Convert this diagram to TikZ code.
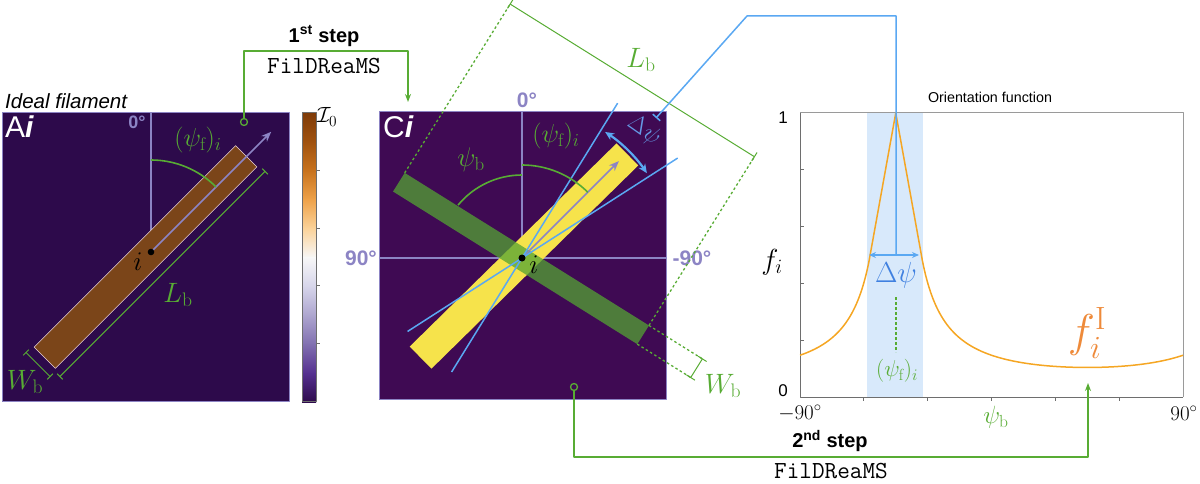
\RequirePackage{fix-cm}
\documentclass[tikz,border=0pt]{standalone}
\usepackage{fontspec}
\newfontfamily\hv{Liberation Sans}
\usetikzlibrary{arrows.meta,calc}
\definecolor{bgA}{HTML}{2D0A4B}
\definecolor{bgC}{HTML}{3F0A53}
\definecolor{lav}{HTML}{8C84C4}
\definecolor{grn}{HTML}{58AC34}
\definecolor{blu}{HTML}{5AA8F2}
\definecolor{bluD}{HTML}{3F80E0}
\definecolor{brn}{HTML}{7B4519}
\definecolor{brnE}{HTML}{E8D0D8}
\definecolor{yel}{HTML}{F6E34B}
\definecolor{gbar}{HTML}{54A333}
\definecolor{band}{HTML}{D8E9FB}
\definecolor{orc}{HTML}{F5A623}
\definecolor{orl}{HTML}{EE8A3A}
\definecolor{axc}{HTML}{6E6E6E}
\tikzset{
  panel/.style={draw=lav, line width=0.8, inner sep=0, anchor=south west},
  lavline/.style={lav, line width=1.3},
  lavarrow/.style={lav, line width=1.6, -{Stealth[length=10,width=8]}},
  grnline/.style={grn, line width=1.6},
  dimline/.style={grn, line width=1},
  dotline/.style={grn, line width=1.3, dash pattern=on 2.5pt off 2.5pt},
  bluline/.style={blu, line width=1.5},
  deg/.style={text=lav, font=\hv\bfseries\fontsize{21}{24}\selectfont, inner sep=0},
  paneltag/.style={text=white, font=\hv\fontsize{30}{34}\selectfont, inner sep=0, anchor=base west},
  gtxt/.style={text=grn, inner sep=0},
  stepbr/.style={grn, line width=1.6, -{Stealth[length=8,width=6]}},
  opencirc/.style={draw=grn, line width=1.3, circle, minimum size=7, inner sep=0},
  steptxt/.style={font=\hv\bfseries\fontsize{20}{24}\selectfont, inner sep=0},
  tool/.style={font=\ttfamily\fontsize{24.5}{28}\selectfont, inner sep=0},
}
\newcommand{\fsz}[1]{\fontsize{#1}{#1}\selectfont}
\begin{document}
\begin{tikzpicture}[x=1pt,y=1pt,line join=round]
\useasboundingbox (0,0) rectangle (1200,483);

% ---------------- Panel A ----------------
\node[panel, fill=bgA, minimum width=287, minimum height=289] (panA) at (2,81) {};
\node[anchor=base west, inner sep=0, font=\hv\itshape\fontsize{20.5}{24}\selectfont] (ideal) at (5,374) {Ideal filament};
\node[paneltag] (tagA) at (5,345) {A\textbf{\textit{i}}};
\coordinate (iA) at (151,231);
\draw[lavline] (iA) -- (iA |- panA.north);
\node[deg, font=\hv\bfseries\fontsize{18}{20}\selectfont] (zA) at (137,361) {0°};
\node[rotate=45, minimum width=285, minimum height=30, fill=brn, draw=brnE, line width=0.6, inner sep=0] (barA) at (145.5,226) {};
\draw[lavarrow] (iA) -- ++(45:170) coordinate (tipA);
\draw[grnline] ($(iA)+(90:92)$) arc[start angle=90, end angle=45, radius=92];
\node[gtxt, font=\fsz{26}] (psifA) at (198,343) {$(\psi_{\mathrm{f}})_i$};
\fill (iA) circle (3.3);
\node[inner sep=0, font=\fsz{27}] (iAl) at (138,221) {$i$};
\begin{scope}[shift={(145.5,226)}, rotate=45]
  \draw[dimline] (-145,-24) coordinate (la1) -- (145,-24) coordinate (la2);
  \draw[dimline] (-145,-28) -- (-145,-20);
  \draw[dimline] (145,-28) -- (145,-20);
  \draw[dimline] (-152,-17) coordinate (wa1) -- (-152,17) coordinate (wa2);
  \draw[dimline] (-156,-17) -- (-148,-17);
  \draw[dimline] (-156,17) -- (-148,17);
\end{scope}
\node[gtxt, font=\fsz{28}] (LbA) at (178,188) {$L_{\mathrm{b}}$};
\node[gtxt, font=\fsz{28}] (WbA) at (25,101) {$W_{\mathrm{b}}$};

% ---------------- Colour bar ----------------
\foreach \t/\b [count=\k from 0] in {7F3B08/A0520F, A0520F/C8731E, C8731E/EEA24A, EEA24A/FBD39A, FBD39A/F7F7F7, F7F7F7/D6D5EA, D6D5EA/ADA5CF, ADA5CF/8170B0, 8170B0/553090, 553090/2D0A4B}{
  \definecolor{ctop}{HTML}{\t}\definecolor{cbot}{HTML}{\b}
  \shade[top color=ctop, bottom color=cbot] (302,{370-28.9*(\k+1)-0.3}) rectangle (316,{370-28.9*\k});
}
\node[draw=axc, line width=0.7, minimum width=14, minimum height=289, inner sep=0, anchor=south west] (cbar) at (302,81) {};
\foreach \yy in {139.5,197.3,255.1,312.9} \draw[axc, line width=0.8] (316,\yy) -- (320,\yy);
\node[anchor=west, inner sep=0, font=\fsz{22}] (I0) at (317,366) {$\mathcal{I}_0$};

% ---------------- Panel C ----------------
\node[panel, fill=bgC, minimum width=287, minimum height=288] (panC) at (379,83) {};
\coordinate (O) at (522,225);
\draw[lavline] (panC.west |- O) -- (panC.east |- O);
\draw[lavline] (O) -- (O |- panC.north);
\node[paneltag] (tagC) at (383,345) {C\textbf{\textit{i}}};
\node[deg] (z0) at (527,383) {0°};
\node[deg] (z90) at (361,225) {90°};
\node[deg] (zm90) at (692,225) {-90°};
\node[rotate=44.5, minimum width=290, minimum height=31, fill=yel, inner sep=0] (barY) at (524,227) {};
\node[rotate=-32, minimum width=288, minimum height=22, fill=gbar, fill opacity=0.75, inner sep=0] (barG) at (521,224.5) {};
\draw[lavarrow] (O) -- ++(45:137);
\draw[bluline] ($(O)+(58.3:-134)$) -- ($(O)+(58.3:182)$);
\draw[bluline] ($(O)+(32.7:-136)$) -- ($(O)+(32.7:185)$);
\draw[grnline] ($(O)+(90:93)$) arc[start angle=90, end angle=45, radius=93];
\draw[grnline] ($(O)+(90:83)$) arc[start angle=90, end angle=140.4, radius=83];
\draw[blu, line width=2.2, {Stealth[length=9,width=8]}-{Stealth[length=9,width=8]}] ($(O)+(56.6:151)$) arc[start angle=56.6, end angle=34.2, radius=151];
\fill (O) circle (3.5);
\node[inner sep=0, font=\fsz{27}] (iCl) at (534,218) {$i$};
\node[gtxt, font=\fsz{26}] (psifC) at (556,347) {$(\psi_{\mathrm{f}})_i$};
\node[gtxt, font=\fsz{27}] (psibC) at (471,323) {$\psi_{\mathrm{b}}$};
\node[text=bluD!80, inner sep=0, rotate=-35, font=\fsz{24}] (dpsiC) at (644,352) {$\Delta\psi$};
\begin{scope}[shift={(521,224.5)}, rotate=-32]
  \draw[dotline] (-144,11) -- (-144,210);
  \draw[dotline] (144,11) -- (144,210);
  \draw[dimline] (-144,210) coordinate (lc1) -- (144,210) coordinate (lc2);
  \draw[dimline] (-144,205) -- (-144,215);
  \draw[dimline] (144,205) -- (144,215);
  \draw[dotline] (144,11) -- (207,11);
  \draw[dotline] (144,-11) -- (207,-11);
  \draw[dimline] (207,-11) coordinate (wc1) -- (207,11) coordinate (wc2);
  \draw[dimline] (202,-11) -- (212,-11);
  \draw[dimline] (202,11) -- (212,11);
\end{scope}
\node[gtxt, font=\fsz{28}] (LbC) at (641,423) {$L_{\mathrm{b}}$};
\node[gtxt, font=\fsz{28}] (WbC) at (723,97) {$W_{\mathrm{b}}$};

% ---------------- Plot ----------------
\fill[band] (867,86) rectangle (923,370);
\node[inner sep=0, font=\hv\fontsize{14.3}{16}\selectfont] (title) at (990,386) {Orientation function};
\draw[axc!70, line width=1] (800,370) -- (1183,370) -- (1183,86);
\draw[axc, line width=1] (800,370) -- (800,86) -- (1183,86);
\foreach \k in {1,...,5} \draw[axc, line width=0.8] ({800+63.83*\k},86) -- ({800+63.83*\k},82);
\foreach \k in {1,...,4} \draw[axc, line width=0.8] (800,{86+56.8*\k}) -- (804,{86+56.8*\k});
\node[inner sep=0, font=\hv\fontsize{17}{20}\selectfont] (one) at (783,365) {1};
\node[inner sep=0, font=\hv\fontsize{17}{20}\selectfont] (zero) at (783,92) {0};
\node[inner sep=0, font=\fsz{21}] (xm90) at (800,70) {$-90^\circ$};
\node[inner sep=0, font=\fsz{21}] (x90) at (1184,70) {$90^\circ$};
\node[inner sep=0, font=\fsz{29}] (fi) at (772,221) {$f_i$};
\node[gtxt, font=\fsz{25}] (psibP) at (996,66) {$\psi_{\mathrm{b}}$};
\draw[orc, line width=1.5]
  plot[domain=-90:-57.4, samples=60] ({800+2.12778*(\x+90)}, {86+284*0.104/sin(-(\x+45))})
  -- plot[domain=-57.4:-45, samples=10] ({800+2.12778*(\x+90)}, {86+284*(1-0.0415*(-45-\x))})
  -- plot[domain=-45:-32.6, samples=10] ({800+2.12778*(\x+90)}, {86+284*(1-0.0415*(\x+45))})
  -- plot[domain=-32.6:90, samples=150] ({800+2.12778*(\x+90)}, {86+284*0.104/sin(\x+45)});
\draw[blu, line width=1.5, {Stealth[length=7,width=6]}-{Stealth[length=7,width=6]}] (869,228) -- (919,228);
\node[text=bluD, inner sep=0, font=\fsz{29}] (dpsiP) at (896,208) {$\Delta\psi$};
\draw[dotline, line width=1.6] (896,186) -- (896,131);
\node[gtxt, font=\fsz{23}] (psifP) at (897,112) {$(\psi_{\mathrm{f}})_i$};
\node[text=orl, inner sep=0, font=\fsz{46}] (fiI) at (1087,150) {$f_i^{\mathrm{I}}$};

% ---------------- Blue leader ----------------
\coordinate (bl0) at (896,228);
\coordinate (bl1) at (896,467);
\coordinate (bl2) at (747,467);
\coordinate (bl3) at (656,365);
\draw[bluline, -{Bar[width=10]}] (bl0) -- (bl1) -- (bl2) -- (bl3);

% ---------------- Step brackets ----------------
\node[opencirc, fill=bgA] (c1) at (244,361) {};
\coordinate (t1a) at (244,432);
\coordinate (t1b) at (408,432);
\coordinate (t1c) at (408,381);
\draw[stepbr] (c1) -- (t1a) -- (t1b) -- (t1c);
\node[steptxt] (s1) at (324,447) {1\textsuperscript{st} step};
\node[tool] (f1) at (324,417) {FilDReaMS};

\node[opencirc, fill=bgC] (c2) at (574,96) {};
\coordinate (t2a) at (574,26);
\coordinate (t2b) at (1088,26);
\coordinate (t2c) at (1088,100);
\draw[stepbr] (c2) -- (t2a) -- (t2b) -- (t2c);
\node[steptxt] (s2) at (830,42) {2\textsuperscript{nd} step};
\node[tool] (f2) at (831,11.5) {FilDReaMS};
\end{tikzpicture}
\end{document}
